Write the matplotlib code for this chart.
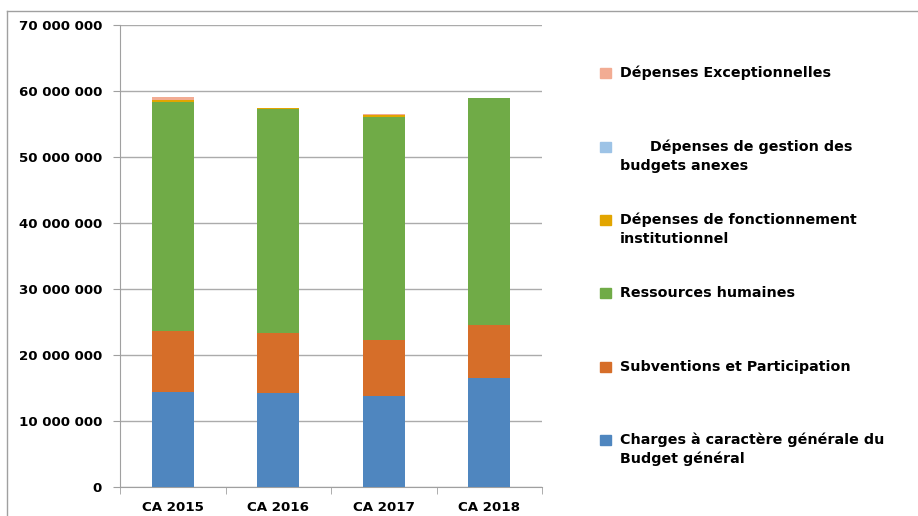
import matplotlib.pyplot as plt
import numpy as np
from matplotlib.lines import Line2D
from matplotlib.patches import Rectangle
from matplotlib.ticker import FuncFormatter

categories = ['CA 2015', 'CA 2016', 'CA 2017', 'CA 2018']

# valeurs en euros
charges = [14350000, 14200000, 13800000, 16500000]
subventions = [9350000, 9100000, 8500000, 8100000]
ressources = [34600000, 33900000, 33700000, 34300000]
fonctionnement = [300000, 200000, 400000, 50000]
gestion = [0, 0, 0, 0]
exceptionnelles = [450000, 50000, 50000, 0]

series = [
    ("Charges à caractère générale du\nBudget général", charges, '#4F86BF'),
    ("Subventions et Participation", subventions, '#D66E29'),
    ("Ressources humaines", ressources, '#70AB47'),
    ("Dépenses de fonctionnement\ninstitutionnel", fonctionnement, '#E2A500'),
    ("      Dépenses de gestion des\nbudgets anexes", gestion, '#9DC3E6'),
    ("Dépenses Exceptionnelles", exceptionnelles, '#F2AC93'),
]

W, H = 918, 516
fig = plt.figure(figsize=(W/100, H/100), dpi=100)
ax = fig.add_axes([120/W, 29/H, 422/W, 462/H])

x = np.arange(len(categories))
bottom = np.zeros(len(categories))
for name, vals, col in series:
    ax.bar(x, vals, 0.4, bottom=bottom, color=col, zorder=3)
    bottom += np.array(vals)

ax.set_xlim(-0.5, 3.5)
ax.set_ylim(0, 70000000)
ax.set_yticks(np.arange(0, 70000001, 10000000))
ax.yaxis.set_major_formatter(FuncFormatter(lambda v, p: f"{int(v):,}".replace(',', ' ')))
ax.set_xticks(x)
ax.set_xticklabels(categories)
ax.set_xticks(np.arange(-0.5, 3.6, 1), minor=True)
ax.tick_params(axis='x', which='major', length=0, pad=10)
ax.tick_params(axis='x', which='minor', length=5, color='#A0A0A0', direction='out')
ax.tick_params(axis='y', length=5, color='#A0A0A0', direction='out', pad=8)
for lab in ax.get_xticklabels() + ax.get_yticklabels():
    lab.set_fontweight('bold')
    lab.set_fontsize(9.6)

ax.grid(axis='y', color='#ABABAB', linewidth=1, zorder=0)
for s in ['top', 'right']:
    ax.spines[s].set_visible(False)
for s in ['left', 'bottom']:
    ax.spines[s].set_color('#A0A0A0')

# légende dessinée à la main, dans l'ordre inverse de l'empilement
leg_y = [440, 367, 293, 220, 147, 73]
for (name, vals, col), yy in zip(series, leg_y):
    fig.add_artist(Rectangle((600/W, 1 - (yy + 5)/H), 11/W, 10/H,
                             color=col, transform=fig.transFigure))
    for i, line in enumerate(name.split('\n')):
        fig.text(620/W, 1 - (yy + 19*i)/H, line, fontsize=10.3, fontweight='bold',
                 va='center', ha='left')

# cadre gris (haut et gauche)
fig.add_artist(Line2D([7/W, 1], [1 - 11/H, 1 - 11/H], color='#A0A0A0', lw=1))
fig.add_artist(Line2D([7/W, 7/W], [0, 1 - 11/H], color='#A0A0A0', lw=1))

fig.savefig('out.png', dpi=100)
